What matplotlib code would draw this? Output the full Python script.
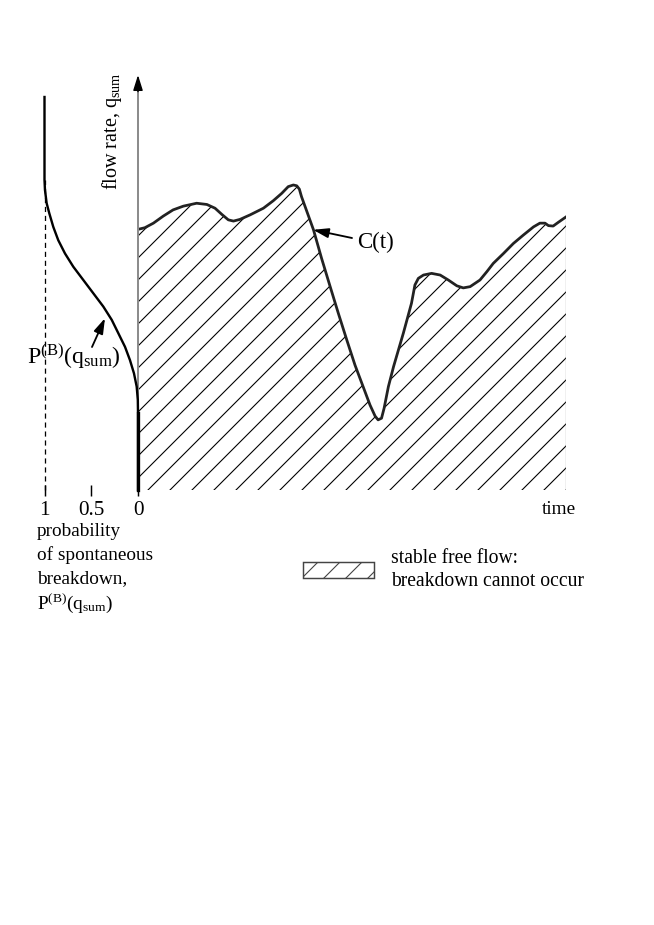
import matplotlib
matplotlib.use('Agg')
import matplotlib.pyplot as plt
from matplotlib.patches import Patch

plt.rcParams['font.family'] = 'Liberation Serif'
plt.rcParams['mathtext.fontset'] = 'custom'
plt.rcParams['mathtext.rm'] = 'Liberation Serif'
plt.rcParams['mathtext.it'] = 'Liberation Serif:italic'
plt.rcParams['hatch.linewidth'] = 0.6

# capacity curve C(t): time (0..1) vs flow rate (0..1)
t_vals = [0, 0.016, 0.036, 0.059, 0.082, 0.106, 0.137, 0.161, 0.180, 0.196, 0.211,
          0.223, 0.238, 0.262, 0.293, 0.316, 0.336, 0.351, 0.363, 0.371, 0.377,
          0.382, 0.410, 0.429, 0.449, 0.468, 0.488, 0.507, 0.526, 0.542, 0.554,
          0.561, 0.569, 0.575, 0.585, 0.597, 0.620, 0.639, 0.647, 0.655, 0.667,
          0.686, 0.706, 0.725, 0.745, 0.760, 0.776, 0.799, 0.815, 0.830, 0.854,
          0.877, 0.900, 0.924, 0.939, 0.951, 0.959, 0.970, 0.982, 1.0]
c_vals = [0.628, 0.632, 0.643, 0.660, 0.675, 0.684, 0.691, 0.688, 0.679, 0.664, 0.651,
          0.648, 0.652, 0.663, 0.679, 0.697, 0.715, 0.731, 0.735, 0.733, 0.725,
          0.707, 0.627, 0.558, 0.490, 0.426, 0.361, 0.301, 0.249, 0.205, 0.178,
          0.169, 0.173, 0.197, 0.249, 0.297, 0.378, 0.450, 0.494, 0.510, 0.518,
          0.522, 0.518, 0.506, 0.492, 0.487, 0.490, 0.506, 0.526, 0.546, 0.570,
          0.594, 0.614, 0.634, 0.643, 0.643, 0.637, 0.636, 0.645, 0.658]

# breakdown probability P(B) vs flow rate
q_prob = [0.947, 0.747, 0.723, 0.691, 0.667, 0.634, 0.602, 0.570, 0.538, 0.506,
          0.474, 0.442, 0.410, 0.378, 0.345, 0.313, 0.281, 0.249, 0.217, 0.185, 0.0]
p_prob = [1.0, 1.0, 0.995, 0.977, 0.949, 0.906, 0.853, 0.781, 0.692, 0.585,
          0.478, 0.371, 0.281, 0.211, 0.139, 0.086, 0.043, 0.014, 0.002, 0.0, 0.0]
q_p_one = 0.747

prob_ticks = [1, 0.5, 0]
prob_labels = ['1', '0.5', '0']

W, H, DPI = 654, 925, 132
fig = plt.figure(figsize=(W / DPI, H / DPI), dpi=DPI)


def fx(px):
    return px / W


def fy(py):
    return 1 - py / H


ax = fig.add_axes([fx(138), fy(490), (566 - 138) / W, (490 - 75) / H])
ax.set_xlim(0, 1)
ax.set_ylim(0, 1)
ax.axis('off')

axp = fig.add_axes([fx(44.5), fy(490), (138 - 44.5) / W, (490 - 75) / H])
axp.set_xlim(1, 0)
axp.set_ylim(0, 1)
axp.patch.set_visible(False)
for s in axp.spines.values():
    s.set_visible(False)
axp.set_yticks([])
axp.set_xticks(prob_ticks)
axp.set_xticklabels(prob_labels, fontsize=11.5)
axp.tick_params(axis='x', direction='inout', length=6, width=0.8, pad=3)

# hatched stable region and C(t)
ax.fill_between(t_vals, 0, c_vals, facecolor='none', edgecolor='k', hatch='//', linewidth=0)
ax.plot([1, 1], [0, c_vals[-1]], color='#999999', lw=0.7)
ax.plot(t_vals, c_vals, color='#222222', lw=1.5, solid_joinstyle='round')

# axes arrows
ax.plot([0, 0], [0, 0.97], color='#8c8c8c', lw=1.1, clip_on=False)
ax.annotate('', xy=(0, 1), xytext=(0, 0.96),
            arrowprops=dict(arrowstyle='-|>,head_length=0.7,head_width=0.22', color='k', lw=0.8,
                            shrinkA=0, shrinkB=0))
ax.annotate('', xy=(1.037, 0), xytext=(-0.257, 0),
            arrowprops=dict(arrowstyle='<|-|>,head_length=0.7,head_width=0.22', color='#222222',
                            lw=1.0, shrinkA=0, shrinkB=0))

# probability curve
axp.plot([1, 1], [0, q_p_one], color='k', lw=0.7, ls=(0, (4, 3)), clip_on=False)
axp.plot(p_prob, q_prob, color='k', lw=1.3, clip_on=False, solid_joinstyle='round')
axp.plot([0, 0], [0, q_prob[-2]], color='k', lw=1.8, clip_on=False)

# annotations
ax.annotate('', xy=(0.409, 0.627), xytext=(352, H - 238), textcoords='figure pixels',
            arrowprops=dict(arrowstyle='-|>,head_length=0.7,head_width=0.22', color='k', lw=1.0,
                            shrinkA=0, shrinkB=0))
fig.text(fx(357), fy(242), 'C(t)', fontsize=12.5, ha='left', va='center')

axp.annotate('', xy=(0.353, 0.414), xytext=(92, H - 347), textcoords='figure pixels',
             arrowprops=dict(arrowstyle='-|>,head_length=0.7,head_width=0.22', color='k', lw=1.0,
                             shrinkA=0, shrinkB=0))
fig.text(fx(27), fy(357), r'$\mathrm{P^{(B)}(q_{sum})}$', fontsize=13, ha='left', va='center')

fig.text(fx(112), fy(131), r'flow rate, $\mathrm{q_{sum}}$', fontsize=11, rotation=90,
         ha='center', va='center')
fig.text(fx(576), fy(510), 'time', fontsize=10.5, ha='right', va='center')

lines = ['probability', 'of spontaneous', 'breakdown,', r'$\mathrm{P^{(B)}(q_{sum})}$']
for i, s in enumerate(lines):
    fig.text(fx(37), fy(531 + 24 * i), s, fontsize=10.5, ha='left', va='center')

leg = fig.legend(handles=[Patch(facecolor='white', edgecolor='#444444', hatch='//', linewidth=0.8)],
                 labels=['stable free flow:\nbreakdown cannot occur'],
                 loc='center left', bbox_to_anchor=(fx(303), fy(570)), frameon=False,
                 borderpad=0, borderaxespad=0, handlelength=3.6, handleheight=0.85,
                 handletextpad=0.9, fontsize=10.7)
leg.get_texts()[0].set_linespacing(1.35)

fig.savefig('out.png', dpi=DPI)
